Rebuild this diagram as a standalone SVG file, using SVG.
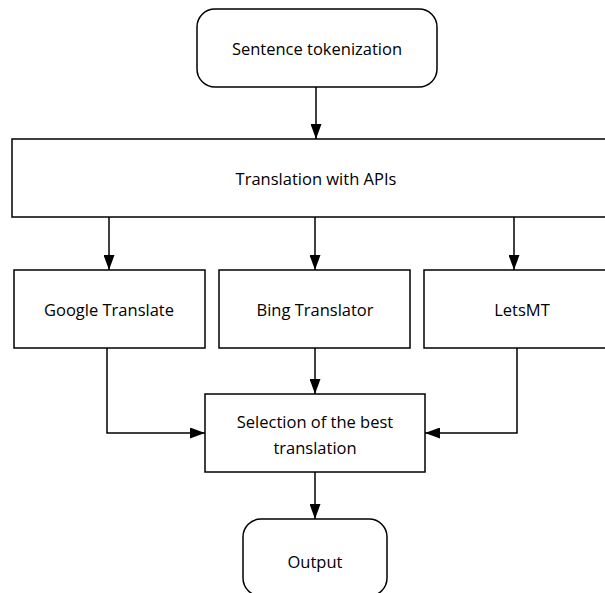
<svg xmlns="http://www.w3.org/2000/svg" width="605" height="593" viewBox="0 0 605 593">
<style>
.box{fill:#fff;stroke:#000;stroke-width:1.5}
.lbl{font-family:"Open Sans","Liberation Sans",sans-serif;font-size:16.5px;fill:#000;text-anchor:middle;dominant-baseline:central}
.conn{fill:none;stroke:#000;stroke-width:1.5}
</style>
<defs>
<marker id="ah" viewBox="0 0 15 11" refX="15" refY="5.5" markerWidth="15" markerHeight="11" markerUnits="userSpaceOnUse" orient="auto">
<path d="M0,0 L15,5.5 L0,11 Z" fill="#000"/>
</marker>
</defs>
<rect width="605" height="593" fill="#fff"/>
<g id="connectors">
<path class="conn" d="M316,87 V139" marker-end="url(#ah)"/>
<path class="conn" d="M109,217 V270" marker-end="url(#ah)"/>
<path class="conn" d="M315,217 V270" marker-end="url(#ah)"/>
<path class="conn" d="M514,217 V270" marker-end="url(#ah)"/>
<path class="conn" d="M107,348 V433 H205" marker-end="url(#ah)"/>
<path class="conn" d="M315,348 V394" marker-end="url(#ah)"/>
<path class="conn" d="M517,348 V433 H425" marker-end="url(#ah)"/>
<path class="conn" d="M315,472 V519" marker-end="url(#ah)"/>
</g>
<g id="sentence-tokenization">
<rect class="box" x="197" y="9" width="240" height="78" rx="18"/>
<text class="lbl" x="317" y="48">Sentence tokenization</text>
</g>
<g id="translation-apis">
<rect class="box" x="12" y="139" width="615" height="78"/>
<text class="lbl" x="316" y="178">Translation with APIs</text>
</g>
<g id="google">
<rect class="box" x="14" y="270" width="191" height="78"/>
<text class="lbl" x="109" y="309">Google Translate</text>
</g>
<g id="bing">
<rect class="box" x="219" y="270" width="191" height="78"/>
<text class="lbl" x="315" y="309">Bing Translator</text>
</g>
<g id="letsmt">
<rect class="box" x="424" y="270" width="200" height="78"/>
<text class="lbl" x="522" y="309">LetsMT</text>
</g>
<g id="selection">
<rect class="box" x="205" y="394" width="220" height="78"/>
<text class="lbl" x="315" y="421">Selection of the best</text>
<text class="lbl" x="315" y="447">translation</text>
</g>
<g id="output">
<rect class="box" x="243" y="519" width="144" height="77" rx="18"/>
<text class="lbl" x="315" y="561">Output</text>
</g>
</svg>
